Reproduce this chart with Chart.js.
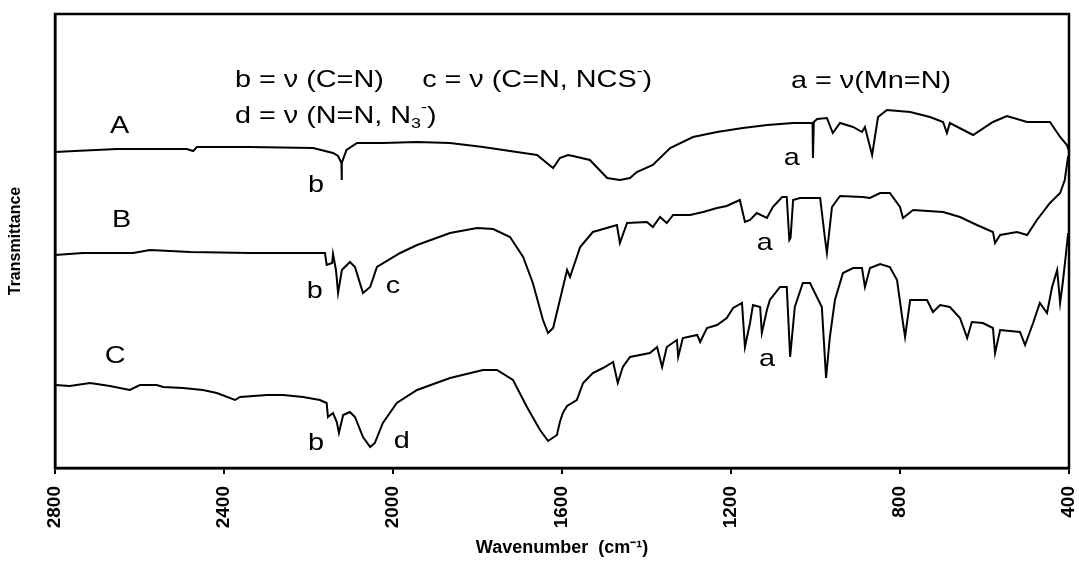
<!DOCTYPE html>
<html>
<head>
<meta charset="utf-8">
<title>IR spectra</title>
<script src="https://cdn.jsdelivr.net/npm/chart.js@4.4.1/dist/chart.umd.min.js"></script>
<style>
  html, body { margin: 0; padding: 0; background: #fff; }
</style>
</head>
<body>
<canvas id="ir-chart" width="1079" height="568"></canvas>
<script>
/* global Chart:false */
'use strict';

// wavenumber (cm-1), transmittance (a.u., traces stacked with an offset)
var spectrumA = [
    [2800, 316], [2753, 317], [2653, 319], [2488, 319], [2473, 317], [2464, 321], [2339, 321],
    [2189, 320], [2142, 315], [2130, 312], [2122, 305], [2121.5, 288], [2121, 305], [2110, 318],
    [2085, 325], [2024, 325], [1943, 326], [1865, 325], [1787, 321], [1707, 316], [1659, 313],
    [1636, 305], [1621, 300], [1605, 310], [1586, 313], [1574, 312], [1534, 308], [1493, 290],
    [1463, 288], [1439, 290], [1423, 296], [1385, 303], [1344, 320], [1290, 331], [1233, 336],
    [1172, 340], [1114, 343], [1053, 345], [1013, 345], [1007, 345], [1006, 310], [1004, 346],
    [996, 349], [973, 350], [959, 335], [942, 345], [911, 341], [890, 336], [883, 341], [866, 313],
    [852, 351], [831, 358], [776, 356], [729, 351], [698, 346], [689, 335], [682, 345], [627, 333],
    [580, 346], [547, 352], [499, 346], [445, 346], [421, 331], [405, 323], [401, 318]
];

var spectrumB = [
    [2800, 213], [2734, 215], [2615, 215], [2575, 218], [2480, 216], [2339, 215], [2161, 215],
    [2157, 203], [2144, 205], [2142, 214], [2135, 198], [2130, 175], [2121, 198], [2102, 206],
    [2090, 201], [2071, 175], [2054, 181], [2038, 201], [1983, 215], [1943, 223], [1865, 235],
    [1801, 240], [1763, 239], [1723, 231], [1692, 211], [1669, 185], [1645, 148], [1633, 135],
    [1621, 140], [1605, 168], [1588, 198], [1581, 191], [1557, 221], [1527, 236], [1486, 241],
    [1470, 243], [1463, 225], [1446, 245], [1399, 246], [1385, 241], [1368, 251], [1352, 245],
    [1337, 253], [1297, 253], [1266, 256], [1233, 260], [1210, 262], [1195, 265], [1179, 268],
    [1167, 246], [1155, 248], [1139, 255], [1115, 250], [1101, 261], [1079, 271], [1068, 271],
    [1062, 228], [1059, 230], [1053, 268], [1037, 270], [989, 270], [978, 231], [973, 215],
    [961, 261], [942, 272], [888, 271], [871, 270], [847, 275], [824, 275], [800, 261], [793, 250],
    [769, 258], [698, 256], [658, 251], [618, 243], [580, 236], [575, 225], [563, 233], [523, 236],
    [499, 233], [476, 248], [445, 265], [421, 275], [410, 288], [405, 303], [402, 312]
];

var spectrumC = [
    [2800, 83], [2765, 82], [2717, 85], [2670, 82], [2623, 78], [2599, 83], [2559, 83], [2544, 81],
    [2497, 80], [2450, 78], [2417, 75], [2374, 68], [2362, 71], [2298, 73], [2260, 73], [2213, 71],
    [2173, 68], [2157, 65], [2154, 51], [2142, 55], [2133, 46], [2128, 35], [2118, 53], [2102, 56],
    [2090, 51], [2071, 31], [2054, 21], [2043, 25], [2024, 45], [1991, 65], [1943, 78], [1865, 90],
    [1787, 98], [1754, 98], [1716, 88], [1683, 61], [1652, 38], [1633, 27], [1612, 33], [1605, 46],
    [1598, 55], [1588, 62], [1565, 68], [1550, 85], [1527, 95], [1503, 100], [1479, 106], [1468, 85],
    [1456, 101], [1439, 111], [1392, 115], [1375, 121], [1363, 101], [1352, 121], [1328, 128],
    [1325, 111], [1314, 130], [1280, 133], [1273, 126], [1257, 140], [1233, 143], [1210, 150],
    [1195, 160], [1174, 165], [1167, 121], [1155, 145], [1148, 163], [1131, 161], [1127, 135],
    [1115, 158], [1108, 168], [1084, 181], [1068, 181], [1060, 111], [1049, 161], [1030, 185],
    [1013, 185], [985, 161], [975, 90], [966, 131], [954, 168], [935, 195], [911, 200], [890, 200],
    [883, 181], [871, 200], [847, 204], [824, 201], [807, 188], [795, 151], [788, 131], [776, 168],
    [736, 168], [722, 156], [705, 163], [682, 161], [658, 150], [641, 130], [630, 146], [604, 145],
    [580, 140], [575, 115], [563, 138], [516, 136], [504, 123], [485, 145], [469, 165], [452, 155],
    [440, 181], [428, 198], [421, 165], [414, 188], [407, 215], [402, 235]
];

var xTicks = [2800, 2400, 2000, 1600, 1200, 800, 400];

// text notes placed in data units (wavenumber, transmittance)
var notes = [
    { wn: 2374, t: 381, parts: [['b = ν (C=N)']] },
    { wn: 1931, t: 381, parts: [['c = ν (C=N, NCS'], ['-', 'sup'], [')']] },
    { wn: 1058, t: 380, parts: [['a = ν(Mn=N)']] },
    { wn: 2374, t: 345, parts: [['d = ν (N=N, N'], ['3', 'sub'], ['-', 'sup'], [')']] },
    { wn: 2670, t: 335, parts: [['A']] },
    { wn: 2665, t: 241, parts: [['B']] },
    { wn: 2682, t: 105, parts: [['C']] },
    { wn: 2182, t: 276, parts: [['b']], center: true },
    { wn: 2185, t: 170, parts: [['b']], center: true },
    { wn: 2000, t: 175, parts: [['c']], center: true },
    { wn: 2182, t: 18, parts: [['b']], center: true },
    { wn: 1979, t: 20, parts: [['d']], center: true },
    { wn: 1056, t: 303, parts: [['a']], center: true },
    { wn: 1120, t: 218, parts: [['a']], center: true },
    { wn: 1115, t: 102, parts: [['a']], center: true }
];

var FAMILY = '"Liberation Sans", Arial, Helvetica, sans-serif';

function toPoints(list) {
    return list.map(function (p) { return { x: p[0], y: p[1] }; });
}

function trace(list) {
    return {
        data: toPoints(list),
        borderColor: '#000',
        borderWidth: 2,
        pointRadius: 0,
        tension: 0,
        fill: false,
    };
}

function partFont(kind) {
    return (kind ? '15px ' : '24px ') + FAMILY;
}

var framePlugin = {
    id: 'frame',
    afterDraw: function (chart) {
        var a = chart.chartArea;
        var c = chart.ctx;
        c.save();
        c.strokeStyle = '#000';
        c.lineWidth = 2.5;
        c.strokeRect(a.left, a.top, a.right - a.left, a.bottom - a.top);
        c.restore();
    },
};

var notesPlugin = {
    id: 'notes',
    afterDatasetsDraw: function (chart) {
        var c = chart.ctx;
        var sx = 1.2; // the source figure is stretched sideways
        notes.forEach(function (n) {
            var x = chart.scales.x.getPixelForValue(n.wn);
            var y = chart.scales.y.getPixelForValue(n.t);
            var w = 0;
            n.parts.forEach(function (p) {
                c.font = partFont(p[1]);
                w += c.measureText(p[0]).width;
            });
            var x0 = n.center ? x - (w * sx) / 2 : x;
            c.save();
            c.translate(x0, y);
            c.scale(sx, 1);
            c.fillStyle = '#000';
            c.textBaseline = 'alphabetic';
            c.textAlign = 'left';
            var cx = 0;
            n.parts.forEach(function (p) {
                c.font = partFont(p[1]);
                var dy = p[1] === 'sup' ? -11 : p[1] === 'sub' ? 5 : 0;
                c.fillText(p[0], cx, dy);
                cx += c.measureText(p[0]).width;
            });
            c.restore();
        });
    },
};

new Chart(document.getElementById('ir-chart'), {
    type: 'line',
    data: {
        datasets: [trace(spectrumA), trace(spectrumB), trace(spectrumC)],
    },
    options: {
        responsive: false,
        animation: false,
        devicePixelRatio: 1,
        layout: { padding: { top: 14, right: 10, left: 0, bottom: 0 } },
        plugins: {
            legend: { display: false },
            tooltip: { enabled: false },
        },
        scales: {
            x: {
                type: 'linear',
                reverse: true,
                min: 400,
                max: 2800,
                afterBuildTicks: function (axis) {
                    axis.ticks = xTicks.map(function (v) { return { value: v }; });
                },
                afterFit: function (axis) {
                    axis.height = 100;
                    axis.paddingLeft = 0;
                    axis.paddingRight = 0;
                },
                ticks: {
                    autoSkip: false,
                    minRotation: 90,
                    maxRotation: 90,
                    padding: 12,
                    color: '#000',
                    font: { family: FAMILY, size: 19, weight: 'bold' },
                    callback: function (v) { return String(v); },
                },
                grid: {
                    display: true,
                    drawOnChartArea: false,
                    drawTicks: true,
                    tickLength: 6,
                    color: '#000',
                    lineWidth: 2,
                },
                border: { display: true, color: '#000', width: 2.5 },
                title: {
                    display: true,
                    text: 'Wavenumber  (cm⁻¹)',
                    color: '#000',
                    font: { family: FAMILY, size: 18, weight: 'bold' },
                    padding: { top: 0, bottom: 9 },
                },
            },
            y: {
                type: 'linear',
                min: 0,
                max: 454,
                afterFit: function (axis) {
                    axis.width = 55;
                    axis.paddingTop = 0;
                    axis.paddingBottom = 0;
                },
                ticks: { display: false },
                grid: { display: false },
                border: { display: true, color: '#000', width: 2.5 },
                title: {
                    display: true,
                    text: 'Transmittance',
                    color: '#000',
                    font: { family: FAMILY, size: 16, weight: 'bold' },
                    padding: { top: 6, bottom: 0 },
                },
            },
        },
    },
    plugins: [framePlugin, notesPlugin],
});
</script>
</body>
</html>
